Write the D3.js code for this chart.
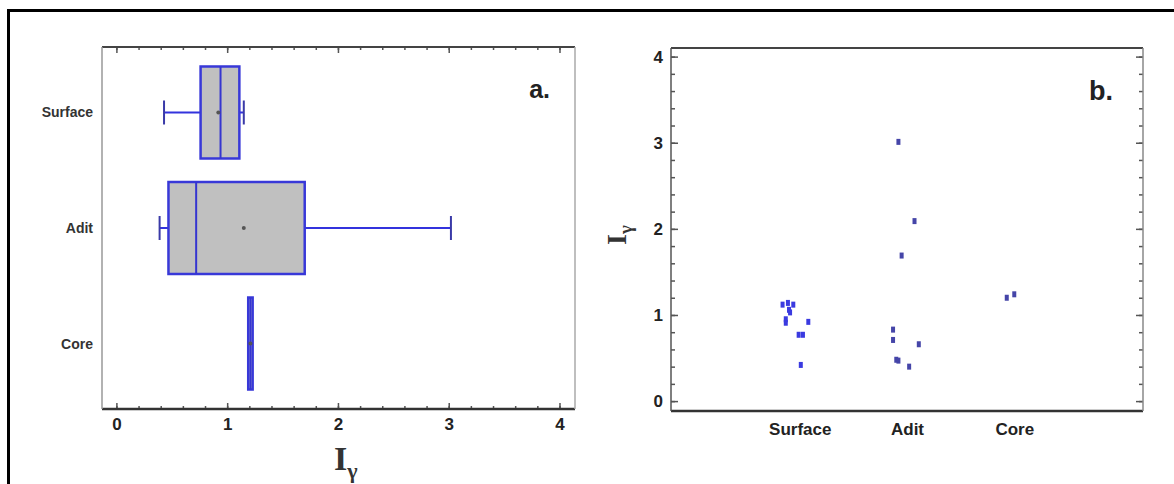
<!DOCTYPE html>
<html>
<head>
<meta charset="utf-8">
<script src="https://cdn.jsdelivr.net/npm/d3@7"></script>
<style>
  body { margin: 0; background: #fff; }
  svg { display: block; }
  .tk text { font-family: "Liberation Sans", Arial, sans-serif; font-weight: bold; font-size: 17px; fill: #222; }
  .tk path { display: none; }
  .tk line { stroke: #555; stroke-width: 1.5; }
</style>
</head>
<body>
<svg id="chart"></svg>
<script>
// categories and values
const cats = ['Surface', 'Adit', 'Core'];
const boxMin = [0.43, 0.39, 1.19];
const boxQ1 = [0.76, 0.47, 1.19];
const boxMed = [0.94, 0.72, 1.21];
const boxQ3 = [1.11, 1.70, 1.23];
const boxMax = [1.15, 3.02, 1.23];
const boxMean = [0.92, 1.15, 1.21];

// panel b points: category, jittered x (category units), value
const ptCat = ['Surface','Surface','Surface','Surface','Surface','Surface','Surface','Surface','Surface','Surface','Surface',
               'Adit','Adit','Adit','Adit','Adit','Adit','Adit','Adit','Adit',
               'Core','Core'];
const ptX = [0.84, 0.89, 0.94, 0.91, 0.87, 0.87, 1.08, 0.99, 1.03, 1.01, 0.90,
             1.87, 1.87, 2.11, 1.90, 1.92, 2.02, 1.92, 2.07, 1.95,
             2.93, 3.00];
const ptY = [1.12, 1.14, 1.12, 1.03, 0.95, 0.91, 0.92, 0.77, 0.77, 0.42, 1.06,
             0.83, 0.71, 0.66, 0.48, 0.47, 0.40, 3.01, 2.09, 1.69,
             1.20, 1.24];
const valTicks = [0, 1, 2, 3, 4];

const w = 1174, h = 484;
const svg = d3.select('#chart').attr('width', w).attr('height', h);

// outer frame (runs off the right and bottom edges)
svg.append('rect').attr('x', 8.5).attr('y', 10.5).attr('width', w + 10).attr('height', h + 10)
   .attr('fill', 'none').attr('stroke', '#000').attr('stroke-width', 3);

const minor = d3.range(0, 4.01, 0.2);

// ---------- panel a ----------
const xA = d3.scaleLinear().domain([-0.13, 4.14]).range([102, 575]);
const yA = d3.scalePoint().domain(cats).range([47, 409]).padding(0.567);
const bh = 92;

const ga = svg.append('g');
ga.append('g').attr('class', 'tk').attr('transform', 'translate(0,409)')
  .call(d3.axisBottom(xA).tickValues(minor).tickSize(-3).tickFormat(''));
ga.append('g').attr('class', 'tk').attr('transform', 'translate(0,409)')
  .call(d3.axisBottom(xA).tickValues(valTicks).tickSizeInner(-6).tickSizeOuter(0).tickPadding(9).tickFormat(d3.format('d')));
ga.append('g').attr('class', 'tk').attr('transform', 'translate(0,47)')
  .call(d3.axisTop(xA).tickValues(minor).tickSize(-3).tickFormat(''));
ga.append('g').attr('class', 'tk').attr('transform', 'translate(0,47)')
  .call(d3.axisTop(xA).tickValues(valTicks).tickSize(-6).tickFormat(''));

// frame
ga.append('line').attr('x1', 102).attr('x2', 575).attr('y1', 47).attr('y2', 47).attr('stroke', '#444').attr('stroke-width', 2);
ga.append('line').attr('x1', 102).attr('x2', 575).attr('y1', 409).attr('y2', 409).attr('stroke', '#333').attr('stroke-width', 2.5);
ga.append('line').attr('x1', 102).attr('x2', 102).attr('y1', 47).attr('y2', 409).attr('stroke', '#999').attr('stroke-width', 1.5);
ga.append('line').attr('x1', 575).attr('x2', 575).attr('y1', 47).attr('y2', 409).attr('stroke', '#aaa').attr('stroke-width', 1.5);

// category labels
ga.selectAll('text.cat').data(cats).enter().append('text')
  .attr('x', 93).attr('y', d => yA(d) + 5).attr('text-anchor', 'end')
  .attr('font-family', 'Liberation Sans, Arial, sans-serif').attr('font-weight', 'bold')
  .attr('font-size', '14px').attr('fill', '#333').text(d => d);

const boxes = cats.map((c, i) => ({ c, lo: boxMin[i], q1: boxQ1[i], med: boxMed[i], q3: boxQ3[i], hi: boxMax[i], mean: boxMean[i] }));
const bx = ga.selectAll('g.box').data(boxes).enter().append('g');
// whiskers
bx.append('line').attr('x1', d => xA(d.lo)).attr('x2', d => xA(d.q1)).attr('y1', d => yA(d.c)).attr('y2', d => yA(d.c))
  .attr('stroke', '#3333dd').attr('stroke-width', 2);
bx.append('line').attr('x1', d => xA(d.q3)).attr('x2', d => xA(d.hi)).attr('y1', d => yA(d.c)).attr('y2', d => yA(d.c))
  .attr('stroke', '#3333dd').attr('stroke-width', 2);
bx.filter(d => d.hi > d.q3 || d.lo < d.q1).each(function(d) {
  const g = d3.select(this);
  [d.lo, d.hi].forEach(v => {
    g.append('line').attr('x1', xA(v)).attr('x2', xA(v)).attr('y1', yA(d.c) - 12).attr('y2', yA(d.c) + 12)
     .attr('stroke', '#3a3aa8').attr('stroke-width', 2);
  });
});
// box
bx.append('rect').attr('x', d => xA(d.q1)).attr('width', d => xA(d.q3) - xA(d.q1))
  .attr('y', d => yA(d.c) - bh / 2).attr('height', bh)
  .attr('fill', '#c0c0c0').attr('stroke', '#3838d8').attr('stroke-width', 2.5);
bx.append('line').attr('x1', d => xA(d.med)).attr('x2', d => xA(d.med))
  .attr('y1', d => yA(d.c) - bh / 2).attr('y2', d => yA(d.c) + bh / 2)
  .attr('stroke', '#3535d0').attr('stroke-width', 2);
bx.append('circle').attr('cx', d => xA(d.mean)).attr('cy', d => yA(d.c)).attr('r', 2)
  .attr('fill', '#555');

ga.append('text').attr('x', 550).attr('y', 98).attr('text-anchor', 'end')
  .attr('font-family', 'Liberation Sans, Arial, sans-serif').attr('font-weight', 'bold')
  .attr('font-size', '25px').attr('fill', '#222').text('a.');

const xt = ga.append('text').attr('x', 334).attr('y', 470)
  .attr('font-family', 'Liberation Serif, Times New Roman, serif').attr('font-weight', 'bold')
  .attr('font-size', '34px').attr('fill', '#333');
xt.append('tspan').text('I');
xt.append('tspan').attr('dy', 8).attr('font-size', '22px').text('γ');

// ---------- panel b ----------
const xB = d3.scaleLinear().domain([-0.2, 4.2]).range([671, 1143]);
const yB = d3.scaleLinear().domain([-0.115, 4.1]).range([411, 48]);

const gb = svg.append('g');
gb.append('g').attr('class', 'tk').attr('transform', 'translate(671,0)')
  .call(d3.axisLeft(yB).tickValues(minor).tickSize(-4).tickFormat(''));
gb.append('g').attr('class', 'tk').attr('transform', 'translate(671,0)')
  .call(d3.axisLeft(yB).tickValues(valTicks).tickSizeInner(-7).tickSizeOuter(0).tickPadding(8).tickFormat(d3.format('d')));
gb.append('g').attr('class', 'tk').attr('transform', 'translate(1143,0)')
  .call(d3.axisRight(yB).tickValues(minor).tickSize(-4).tickFormat(''));
gb.append('g').attr('class', 'tk').attr('transform', 'translate(1143,0)')
  .call(d3.axisRight(yB).tickValues(valTicks).tickSize(-7).tickFormat(''));

gb.append('line').attr('x1', 671).attr('x2', 1143).attr('y1', 48).attr('y2', 48).attr('stroke', '#444').attr('stroke-width', 2);
gb.append('line').attr('x1', 671).attr('x2', 1143).attr('y1', 411).attr('y2', 411).attr('stroke', '#333').attr('stroke-width', 2.5);
gb.append('line').attr('x1', 671).attr('x2', 671).attr('y1', 48).attr('y2', 411).attr('stroke', '#555').attr('stroke-width', 1.5);
gb.append('line').attr('x1', 1143).attr('x2', 1143).attr('y1', 48).attr('y2', 411).attr('stroke', '#888').attr('stroke-width', 1.5);

// category labels under the axis
gb.append('g').attr('class', 'tk').attr('transform', 'translate(0,411)')
  .call(d3.axisBottom(xB).tickValues([1, 2, 3]).tickSize(0).tickPadding(12).tickFormat(d => cats[d - 1]))
  .selectAll('text').attr('font-size', '15px').attr('fill', '#333');

const pts = ptCat.map((c, i) => ({ c, x: ptX[i], y: ptY[i] }));
gb.selectAll('rect.pt').data(pts).enter().append('rect')
  .attr('x', d => xB(d.x) - 2).attr('y', d => yB(d.y) - 3).attr('width', 4).attr('height', 6)
  .attr('fill', d => d.c === 'Surface' ? '#3a3ae0' : '#4545a8');

gb.append('text').attr('x', 1113).attr('y', 100).attr('text-anchor', 'end')
  .attr('font-family', 'Liberation Sans, Arial, sans-serif').attr('font-weight', 'bold')
  .attr('font-size', '27px').attr('fill', '#222').text('b.');

const yt = gb.append('text').attr('transform', 'translate(626,245)rotate(-90)')
  .attr('font-family', 'Liberation Serif, Times New Roman, serif').attr('font-weight', 'bold')
  .attr('font-size', '28px').attr('fill', '#333');
yt.append('tspan').text('I');
yt.append('tspan').attr('dy', 6).attr('font-size', '19px').text('γ');
</script>
</body>
</html>
